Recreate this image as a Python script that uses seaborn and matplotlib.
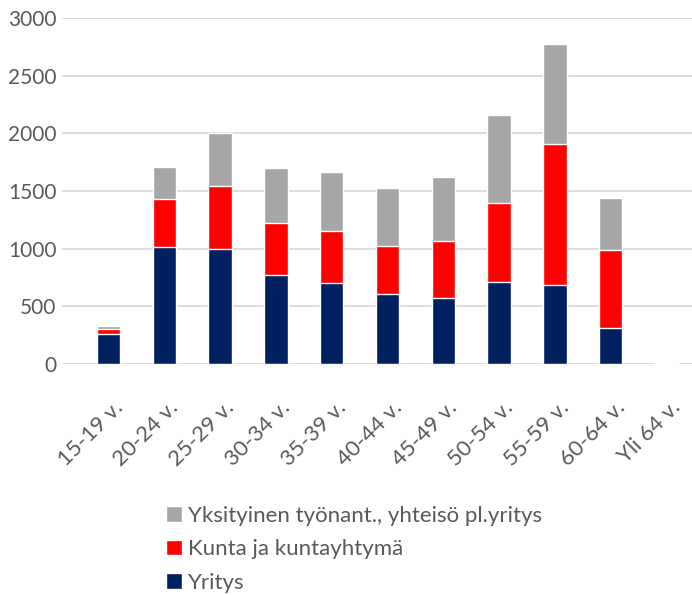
import seaborn as sns
import matplotlib.pyplot as plt
import matplotlib.transforms as mtransforms
import pandas as pd
import numpy as np

# ikäryhmät
categories = ["15-19 v.", "20-24 v.", "25-29 v.", "30-34 v.", "35-39 v.", "40-44 v.",
              "45-49 v.", "50-54 v.", "55-59 v.", "60-64 v.", "Yli 64 v."]

# sarjat (luettu kuvasta)
yritys = [264, 1013, 995, 776, 700, 605, 576, 709, 686, 310, 3]
kunta = [43, 414, 547, 445, 449, 416, 489, 683, 1221, 679, 2]
yksityinen = [23, 283, 460, 480, 517, 506, 553, 764, 870, 449, 14]

series_names = ["Yritys", "Kunta ja kuntayhtymä", "Yksityinen työnant., yhteisö pl.yritys"]
series_colors = ["#002060", "#ff0000", "#a6a6a6"]

df = pd.DataFrame({"ika": categories, "Yritys": yritys,
                   "Kunta ja kuntayhtymä": kunta,
                   "Yksityinen työnant., yhteisö pl.yritys": yksityinen})

# kumulatiiviset summat pinottuja pylväitä varten
cum = df[series_names].cumsum(axis=1)

sns.set_style("white")
plt.rcParams["font.family"] = ["Lato", "DejaVu Sans"]

fig = plt.figure(figsize=(6.92, 5.95), dpi=100)
ax = fig.add_axes([62 / 692, 1 - 364 / 595, 630 / 692, 346 / 595])

# piirretään ylimmästä alimpaan, jolloin alemmat peittävät ylemmät
for name, color in reversed(list(zip(series_names, series_colors))):
    sns.barplot(x=df["ika"], y=cum[name], color=color, width=0.42,
                ax=ax, label=name, saturation=1)

ax.set_ylim(0, 3000)
ax.set_xlim(-0.833, 10.457)
ax.set_yticks(np.arange(0, 3001, 500))
ax.yaxis.grid(True, color="#d9d9d9", linewidth=1.3)
ax.set_axisbelow(True)
for s in ax.spines.values():
    s.set_visible(False)
ax.set_xlabel("")
ax.set_ylabel("")
ax.tick_params(axis="both", length=0, labelsize=15, labelcolor="#595959")
ax.tick_params(axis="y", pad=4)
ax.tick_params(axis="x", pad=24, labelsize=16)
shift = mtransforms.ScaledTranslation(4 / 100, 0, fig.dpi_scale_trans)
for lbl in ax.get_xticklabels():
    lbl.set_rotation(45)
    lbl.set_ha("right")
    lbl.set_rotation_mode("anchor")
    lbl.set_transform(lbl.get_transform() + shift)

handles, labels = ax.get_legend_handles_labels()
if ax.get_legend():
    ax.get_legend().remove()
leg = fig.legend(handles, labels, loc="upper left", bbox_to_anchor=(146 / 692, 1 - 486 / 595),
                 frameon=False, fontsize=16, labelcolor="#595959",
                 handlelength=0.7, handleheight=0.7, handletextpad=0.3, labelspacing=0.6)

fig.savefig("out.png", dpi=100)
plt.close()
